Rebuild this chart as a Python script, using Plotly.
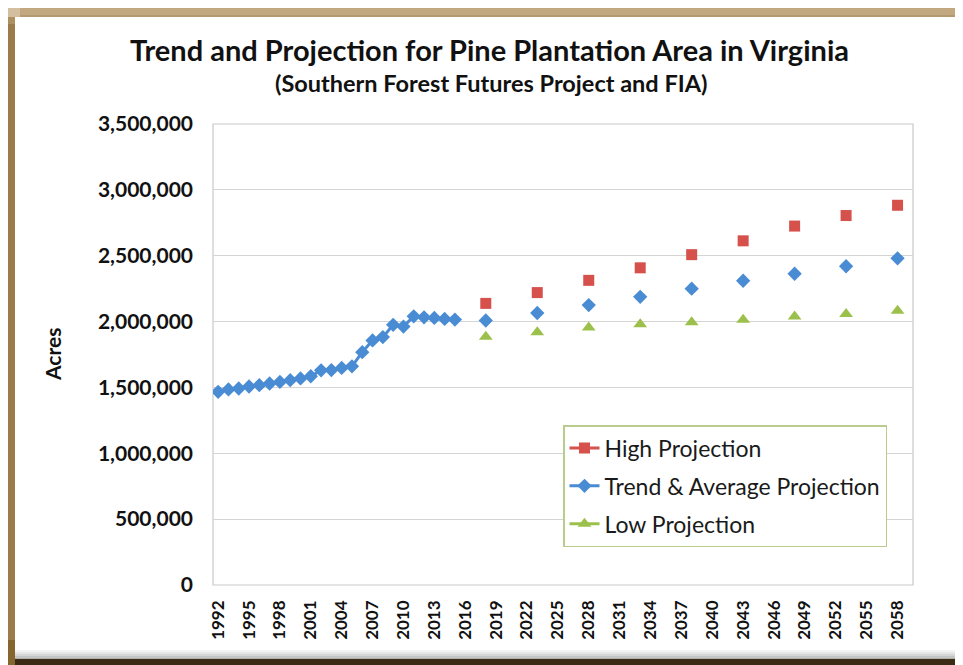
import plotly.graph_objects as go

# ---------------- data ----------------
trend_years = list(range(1992, 2016))
trend_values = [1467000, 1485000, 1492000, 1507000, 1517000, 1530000, 1542000, 1555000,
                1568000, 1585000, 1630000, 1632000, 1648000, 1660000, 1768000, 1857000,
                1882000, 1975000, 1962000, 2040000, 2032000, 2028000, 2020000, 2015000]

proj_years = [2018, 2023, 2028, 2033, 2038, 2043, 2048, 2053, 2058]
high_values = [2138000, 2220000, 2313000, 2408000, 2508000, 2613000, 2725000, 2805000, 2883000]
avg_values = [2008000, 2065000, 2125000, 2188000, 2250000, 2310000, 2363000, 2420000, 2480000]
low_values = [1885000, 1918000, 1955000, 1980000, 1995000, 2013000, 2038000, 2058000, 2083000]

all_years = list(range(1992, 2060))
tick_years = list(range(1992, 2059, 3))
y_ticks = [0, 500000, 1000000, 1500000, 2000000, 2500000, 3000000, 3500000]

def on_years(xs, ys):
    d = dict(zip(xs, ys))
    return [d.get(y) for y in all_years]

trend_full = on_years(trend_years + proj_years, trend_values + avg_values)
high_full = on_years(proj_years, high_values)
low_full = on_years(proj_years, low_values)

RED = "#d6504c"
BLUE = "#4a8cd4"
GREEN = "#9cc04c"
FONT = "Lato"

# page body has an 8px margin: work in window pixels, shift by OFF
OFF = 8
W, H = 963 - OFF, 665 - OFF
L, R, T, B = 213, 913, 124, 585  # plot area in window pixels

def xp(px):
    return (px - L) / (R - L)

def yp(py):
    return (B - py) / (B - T)

fig = go.Figure()
fig.add_trace(go.Scatter(x=all_years, y=high_full, name="High Projection",
                         mode="lines+markers", connectgaps=False, legendgroup="a",
                         line=dict(color=RED, width=3),
                         marker=dict(symbol="square", size=11, color=RED)))
fig.add_trace(go.Scatter(x=all_years, y=trend_full, name="Trend & Average Projection",
                         mode="lines+markers", connectgaps=False, legendgroup="b",
                         line=dict(color=BLUE, width=3),
                         marker=dict(symbol="diamond", size=11, color=BLUE)))
fig.add_trace(go.Scatter(x=all_years, y=low_full, name="Low Projection",
                         mode="lines+markers", connectgaps=False, legendgroup="c",
                         line=dict(color=GREEN, width=3),
                         marker=dict(symbol="triangle-up", size=12, color=GREEN)))

def rect(x0, x1, y0, y1, color, layer="above"):
    return dict(type="rect", xref="paper", yref="paper", x0=xp(x0), x1=xp(x1),
                y0=yp(y1), y1=yp(y0), fillcolor=color, line=dict(width=0), layer=layer)

shapes = []
# right-side soft shadow
shapes.append(rect(955, 959, 20, 652, "#ececec", "below"))
shapes.append(rect(957, 959, 25, 650, "#dedede", "below"))
# bottom shadow gradient
for i, c in enumerate(["#f4f4f4", "#e6e6e6", "#d6d6d6", "#c4c4c4", "#b0b0b0"]):
    shapes.append(rect(15, 963, 650 + i * 2, 660, c, "below"))
# bottom dark bar
shapes.append(rect(5, 963, 659, 665, "#3b2a14"))
# top tan bar
shapes.append(rect(5, 963, 7, 17, "#c2a881"))
shapes.append(rect(5, 963, 15, 17, "#b39870"))
# left brown bar
shapes.append(rect(5, 15, 7, 665, "#9c7b4b"))
shapes.append(rect(5, 15, 640, 665, "#86662f"))
shapes.append(rect(5, 20, 7, 17, "#d3bf9f"))
shapes.append(rect(5, 15, 17, 24, "#ae8f60"))
# plot area border
shapes.append(dict(type="rect", xref="paper", yref="paper", x0=0, x1=1, y0=0, y1=1,
                   line=dict(color="#c9c9c9", width=1.2), layer="below"))

annotations = [
    dict(text="<b>Trend and Projection for Pine Plantation Area in Virginia</b>",
         xref="paper", yref="paper", x=xp(489), y=yp(49), showarrow=False,
         font=dict(family=FONT, size=29, color="#111111"), xanchor="center", yanchor="middle"),
    dict(text="<b>(Southern Forest Futures Project and FIA)</b>",
         xref="paper", yref="paper", x=xp(491), y=yp(83), showarrow=False,
         font=dict(family=FONT, size=23.5, color="#111111"), xanchor="center", yanchor="middle"),
    dict(text="<b>Acres</b>", textangle=-90,
         xref="paper", yref="paper", x=xp(52), y=yp(355), showarrow=False,
         font=dict(family=FONT, size=21, color="#111111"), xanchor="center", yanchor="middle"),
]

fig.update_layout(
    width=W, height=H,
    margin=dict(l=L - OFF, r=(963 - R), t=T - OFF, b=(665 - B), pad=0, autoexpand=False),
    paper_bgcolor="white", plot_bgcolor="white",
    showlegend=True,
    legend=dict(x=xp(563), y=yp(425), xanchor="left", yanchor="top",
                bordercolor="#b9cc8e", borderwidth=1.5, bgcolor="white",
                font=dict(family=FONT, size=23, color="#1a1a1a"),
                tracegroupgap=5, itemwidth=30),
    shapes=shapes,
    annotations=annotations,
    xaxis=dict(range=[1991.5, 2059.5], tickmode="array", tickvals=tick_years,
               ticktext=[str(y) for y in tick_years], tickangle=-90,
               showgrid=False, zeroline=False, showline=False, ticks="",
               ticklabelstandoff=11, automargin=False,
               tickfont=dict(family=FONT, size=17, color="#111111", weight="bold")),
    yaxis=dict(range=[0, 3500000], tickmode="array", tickvals=y_ticks,
               ticktext=[f"{v:,}" for v in y_ticks],
               showgrid=True, gridcolor="#d4d4d4", gridwidth=1.2,
               zeroline=False, showline=False, ticks="",
               ticklabelstandoff=19, automargin=False,
               tickfont=dict(family=FONT, size=21, color="#111111", weight="bold")),
)

fig.write_html("out.html")
